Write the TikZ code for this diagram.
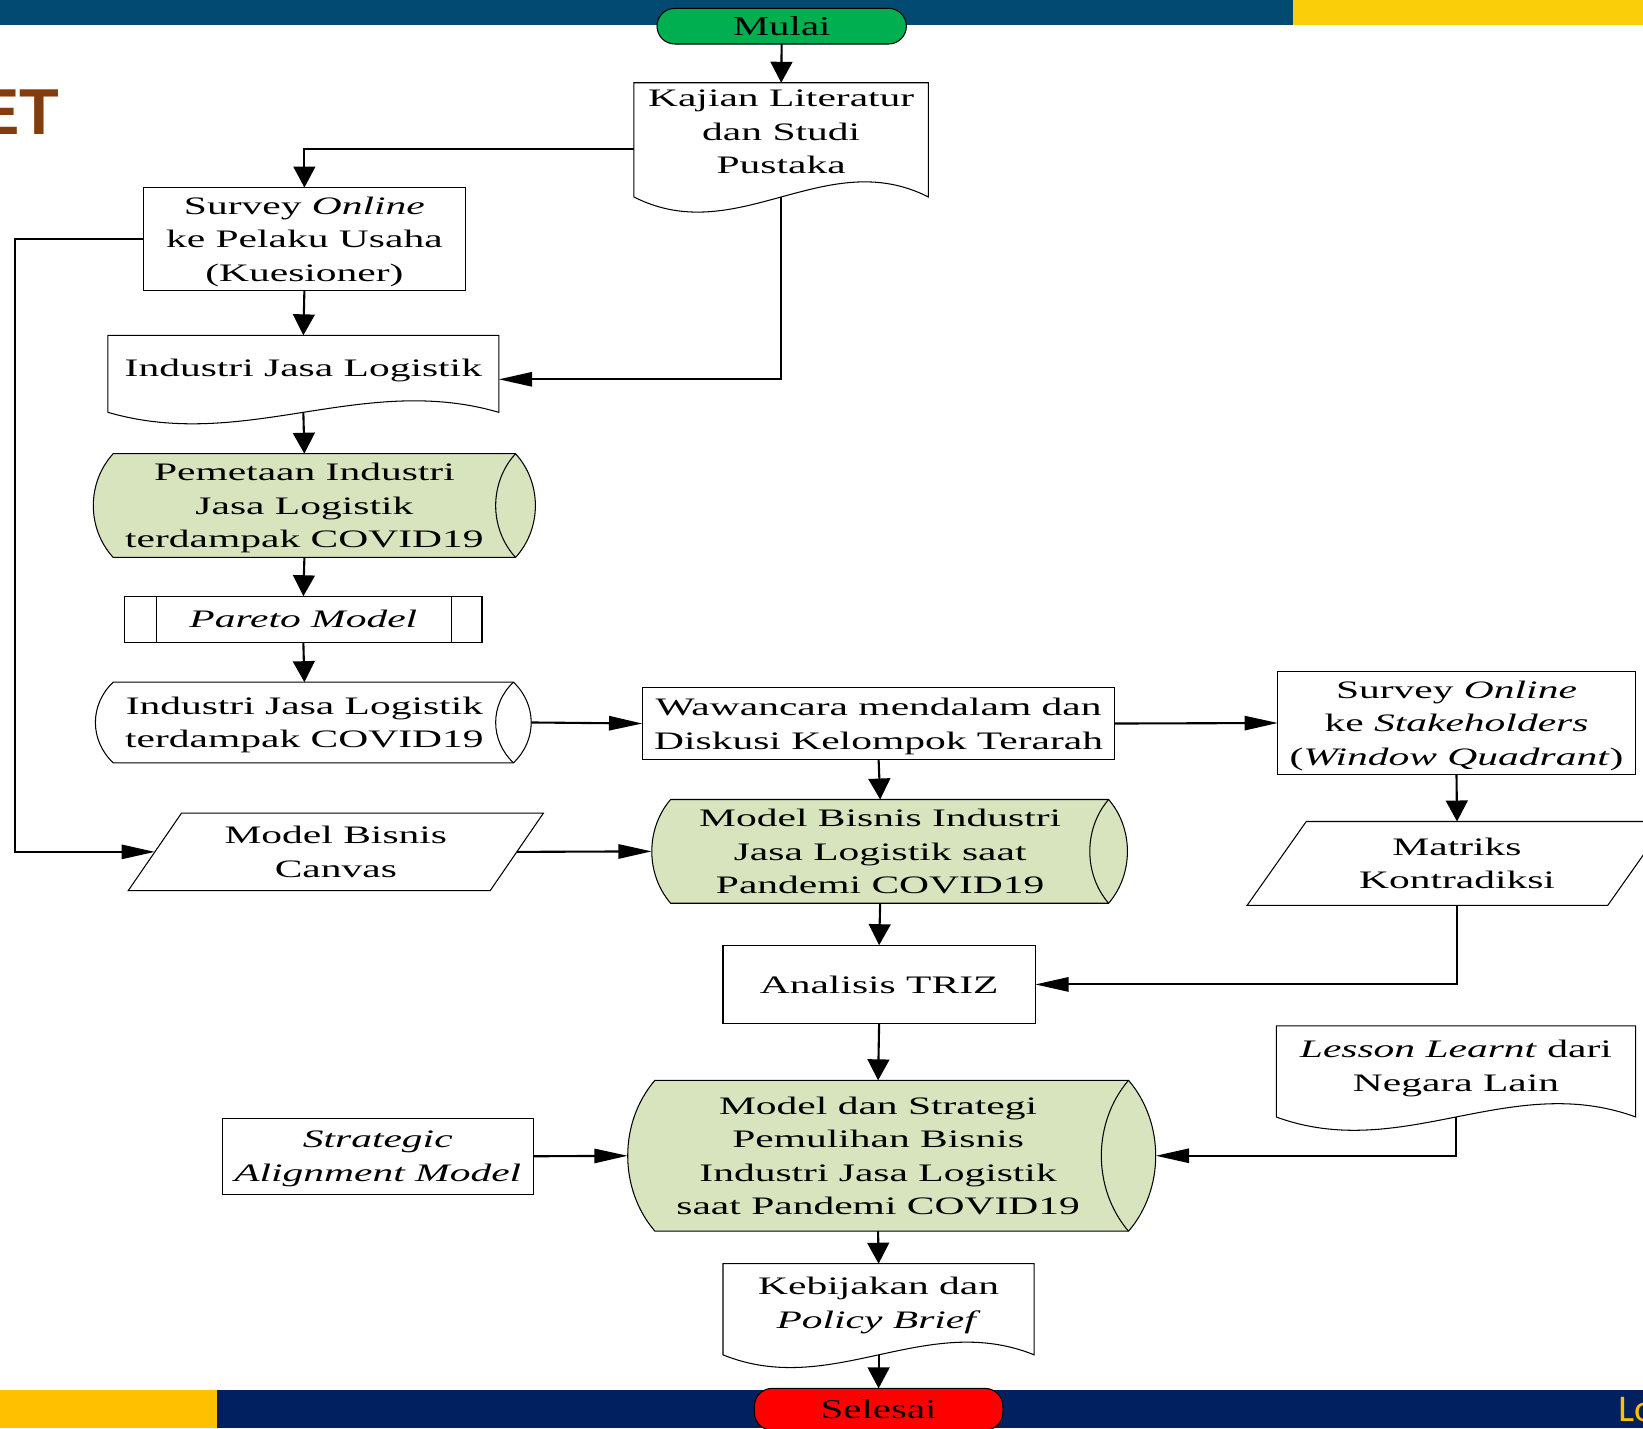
\documentclass[tikz,border=0pt]{standalone}
\usepackage{fontspec}
\setmainfont[FakeStretch=1.65]{Liberation Serif}
\newfontfamily\termfont[FakeStretch=1.5]{Liberation Serif}
\newfontfamily\headfont{Liberation Sans}
\newfontfamily\footfont{Carlito}
\usetikzlibrary{arrows.meta,calc,shapes.geometric,backgrounds}

\definecolor{barblue}{RGB}{3,74,114}
\definecolor{baryellow}{RGB}{250,207,10}
\definecolor{footnavy}{RGB}{0,32,96}
\definecolor{footyellow}{RGB}{255,192,0}
\definecolor{startgreen}{RGB}{0,176,80}
\definecolor{drumgreen}{RGB}{215,228,189}
\definecolor{titlebrown}{RGB}{132,60,12}

\tikzset{
  wh/.style 2 args={minimum width=#1*0.5pt, minimum height=#2*0.5pt},
  txt/.style={font=\fontsize{12}{16}\selectfont, align=center, inner sep=0pt, outer sep=0pt,
    text depth=0pt},
  shp/.style={draw=black, line width=0.5pt},
  box/.style={txt, shp, fill=white},
  para/.style={box, trapezium, trapezium left angle=53, trapezium right angle=127,
    trapezium stretches=true},
  terminal/.style={shp, rounded corners=8.5pt, inner sep=0pt, outer sep=0pt,
    font=\termfont\fontsize{13}{15}\selectfont},
  varrow/.style={line width=1pt, -{Triangle[length=10pt,width=10.4pt]}},
  harrow/.style={line width=1pt, -{Triangle[length=15.9pt,width=6.8pt]}}
}

% document shape: node, extra depth, wave
\newcommand{\docshape}[3]{%
  \begin{pgfonlayer}{background}
    \filldraw[shp,fill=white] ($(#1.south west)+(0,#2)$) -- (#1.north west) -- (#1.north east)
      -- ($(#1.south east)+(0,#2)$)
      .. controls ($(#1.south east)!0.35!(#1.south west)+(0,#2-#3)$)
      and ($(#1.south west)!0.35!(#1.south east)+(0,#2+#3)$) .. ($(#1.south west)+(0,#2)$) -- cycle;
  \end{pgfonlayer}
  \coordinate (#1-b) at ($(#1.south)+(0,#2)$);}

% stored data shape: node, bulge, fill
\newcommand{\drumshape}[3]{%
  \begin{pgfonlayer}{background}
    \filldraw[shp,fill=#3] (#1.north west)
      .. controls ($(#1.north west)!0.28!(#1.south west)+(-1.33*#2,0)$)
      and ($(#1.north west)!0.72!(#1.south west)+(-1.33*#2,0)$) .. (#1.south west)
      -- ($(#1.south east)+(#2,0)$)
      .. controls ($(#1.north east)!0.72!(#1.south east)+(2.33*#2,0)$)
      and ($(#1.north east)!0.28!(#1.south east)+(2.33*#2,0)$) .. ($(#1.north east)+(#2,0)$) -- cycle;
    \draw[shp] ($(#1.north east)+(#2,0)$)
      .. controls ($(#1.north east)!0.28!(#1.south east)+(-0.33*#2,0)$)
      and ($(#1.north east)!0.72!(#1.south east)+(-0.33*#2,0)$) .. ($(#1.south east)+(#2,0)$);
  \end{pgfonlayer}
  \coordinate (#1-l) at ($(#1.west)+(-#2,0)$);
  \coordinate (#1-r) at ($(#1.east)+(2*#2,0)$);}

\begin{document}
\begin{tikzpicture}[x=0.5pt,y=-0.5pt]
  \useasboundingbox (0,0) rectangle (1568,1363);
  \begin{pgfonlayer}{background}
    \fill[barblue] (0,0) rectangle (1234,24);
    \fill[baryellow] (1234,0) rectangle (1568,24);
    \fill[footyellow] (0,1327) rectangle (207,1363);
    \fill[footnavy] (207,1327) rectangle (1568,1363);
  \end{pgfonlayer}
  \node[anchor=base east, inner sep=0pt, text=titlebrown,
    font=\headfont\bfseries\fontsize{31}{31}\selectfont] (title) at (57,128) {ET};
  \node[anchor=base west, inner sep=0pt, text=footyellow,
    font=\footfont\fontsize{18}{18}\selectfont] (footer) at (1544,1357) {Lo};

  \node[terminal, fill=startgreen, wh={238}{34}] (mulai) at (746,25) {Mulai};
  \node[txt, wh={281}{94}] (kajian) at (745.5,126) {Kajian Literatur\\dan Studi\\Pustaka};
  \node[box, wh={307}{98}] (survey) at (290.5,228) {Survey \textit{Online}\\ke Pelaku Usaha\\(Kuesioner)};
  \node[txt, wh={373}{62}] (industri) at (289.5,351) {Industri Jasa Logistik};
  \node[txt, wh={365}{99}] (pemetaan) at (290.5,482.5) {Pemetaan Industri\\Jasa Logistik\\terdampak COVID19};
  \node[box, wh={341}{44}] (pareto) at (289.5,591) {\textit{Pareto Model}};
  \node[txt, wh={365}{77}] (terdampak) at (290.5,689.5) {Industri Jasa Logistik\\terdampak COVID19};
  \node[box, wh={451}{69}] (wawancara) at (838.5,690.5) {Wawancara mendalam dan\\Diskusi Kelompok Terarah};
  \node[box, wh={341}{99}] (stake) at (1390,690) {Survey \textit{Online}\\ke \textit{Stakeholders}\\(\textit{Window Quadrant})};
  \node[para, wh={397}{74}] (canvas) at (320.5,813) {Model Bisnis\\Canvas};
  \node[txt, wh={400}{99}] (mbi) at (840,812.5) {Model Bisnis Industri\\Jasa Logistik saat\\Pandemi COVID19};
  \node[para, wh={401}{80}] (matriks) at (1390.5,824) {Matriks\\Kontradiksi};
  \node[box, wh={298}{75}] (analisis) at (839,939.5) {Analisis TRIZ};
  \node[txt, wh={343}{76}] (lesson) at (1389.5,1017) {\textit{Lesson Learnt} dari\\Negara Lain};
  \node[box, wh={297}{73}] (strategic) at (360.5,1103.5) {\textit{Strategic}\\\textit{Alignment Model}};
  \node[txt, wh={426}{144}] (mds) at (838,1103) {Model dan Strategi\\Pemulihan Bisnis\\Industri Jasa Logistik\\saat Pandemi COVID19};
  \node[txt, wh={297}{75}] (kebijakan) at (838.5,1243.5) {Kebijakan dan\\\textit{Policy Brief}};
  \node[terminal, fill=red, wh={237}{40}] (selesai) at (838.5,1345) {Selesai};

  \docshape{kajian}{15}{50}
  \docshape{industri}{11.5}{38}
  \docshape{lesson}{11}{44}
  \docshape{kebijakan}{12}{42}
  \drumshape{pemetaan}{19}{drumgreen}
  \drumshape{terdampak}{17}{white}
  \drumshape{mbi}{18}{drumgreen}
  \drumshape{mds}{26}{drumgreen}
  \draw[shp] ([xshift=15pt]pareto.north west) -- ([xshift=15pt]pareto.south west);
  \draw[shp] ([xshift=-14.5pt]pareto.north east) -- ([xshift=-14.5pt]pareto.south east);

  \coordinate (rail) at (14,500);
  \draw[varrow] (mulai.south) -- (kajian.north);
  \draw[varrow] ([yshift=-8pt]kajian.west) -| (survey.north);
  \draw[harrow] (kajian-b) |- ([yshift=-5.5pt]industri.east);
  \draw[varrow] (survey.south) -- (industri.north);
  \draw[harrow] (survey.west) -| (rail) |- (canvas.west);
  \draw[varrow] (industri-b) -- (pemetaan.north);
  \draw[varrow] (pemetaan.south) -- (pareto.north);
  \draw[varrow] (pareto.south) -- (terdampak.north);
  \draw[harrow] (terdampak-r) -- (wawancara.west);
  \draw[harrow] (wawancara.east) -- (stake.west);
  \draw[varrow] (wawancara.south) -- (mbi.north);
  \draw[harrow] (canvas.east) -- (mbi-l);
  \draw[varrow] (stake.south) -- (matriks.north);
  \draw[varrow] (mbi.south) -- (analisis.north);
  \draw[harrow] (matriks.south) |- (analisis.east);
  \draw[varrow] (analisis.south) -- (mds.north);
  \draw[harrow] (strategic.east) -- (mds-l);
  \draw[harrow] (lesson-b) |- (mds-r);
  \draw[varrow] (mds.south) -- (kebijakan.north);
  \draw[varrow] (kebijakan-b) -- (selesai.north);
\end{tikzpicture}
\end{document}
